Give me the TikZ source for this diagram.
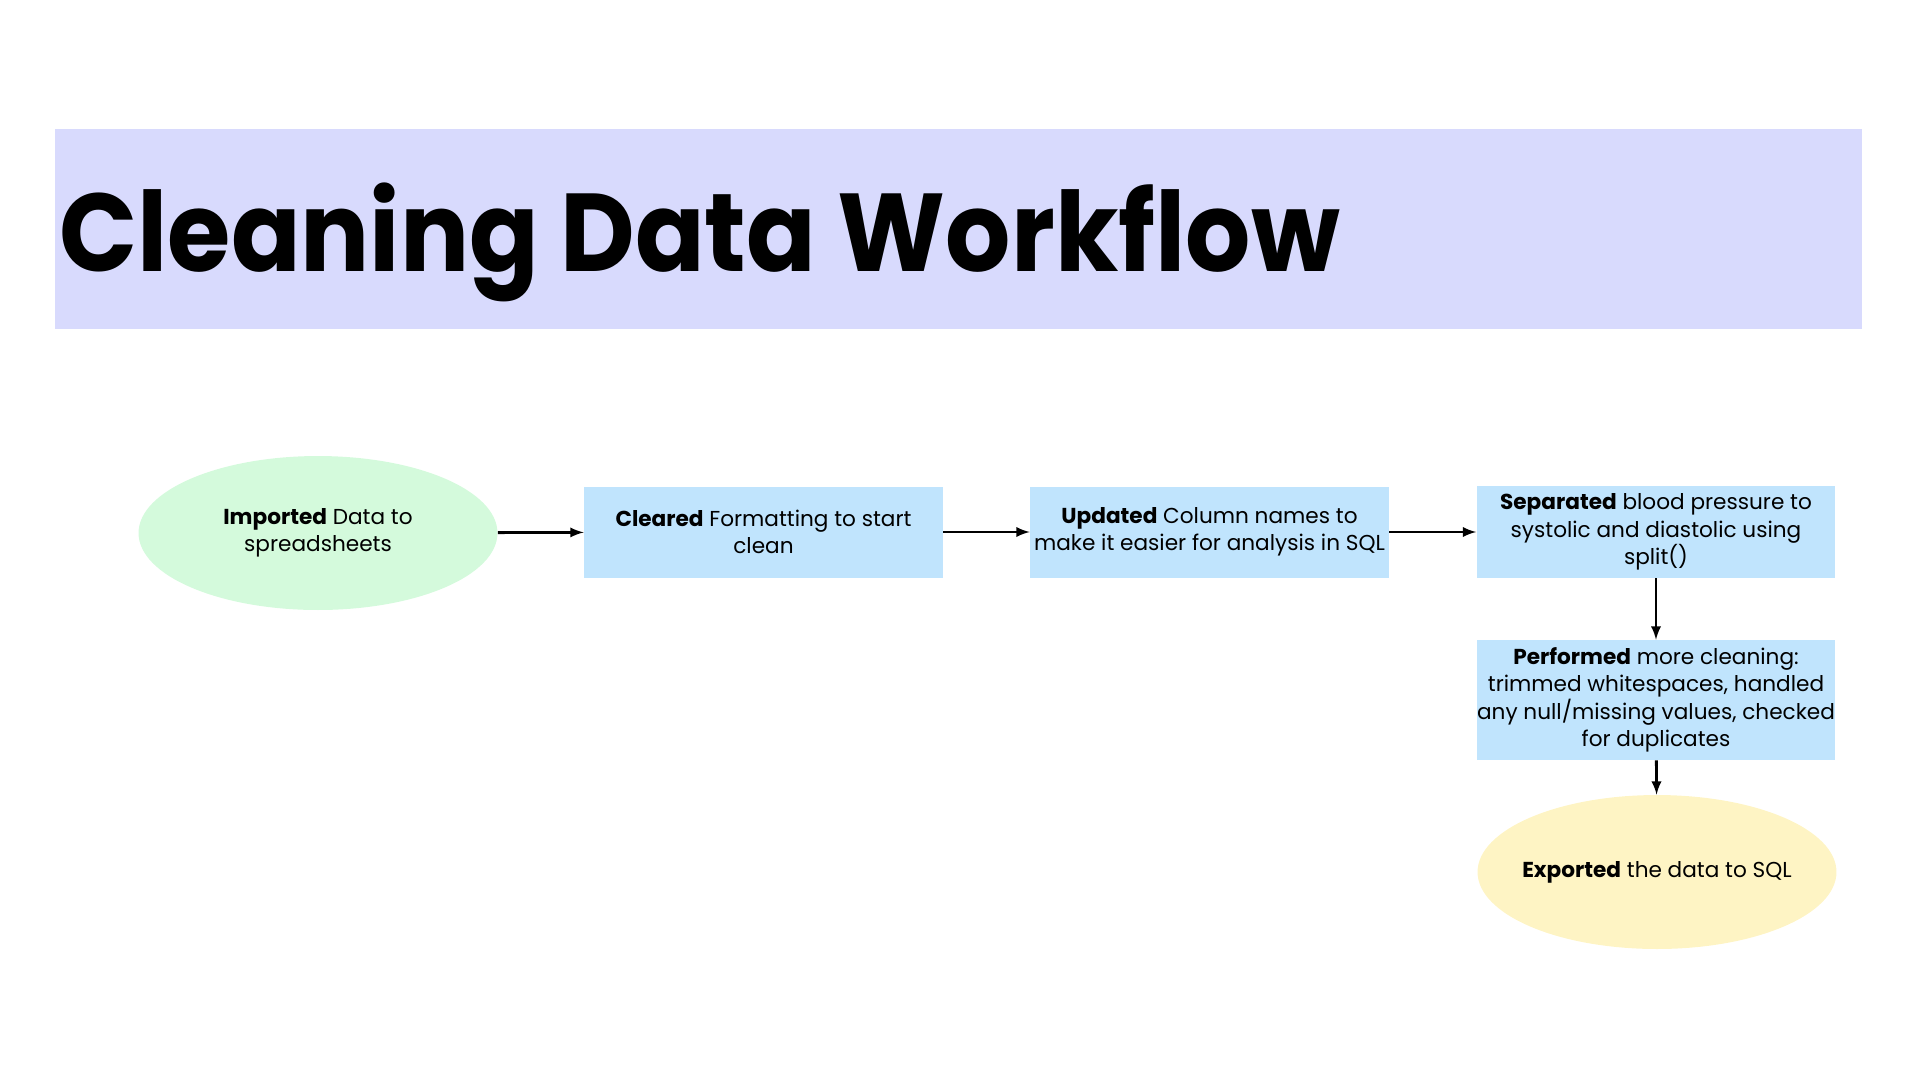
\documentclass[tikz,border=0pt]{standalone}
\usepackage{fontspec}
\setmainfont{Poppins}
\newfontfamily\titlefont[FakeStretch=0.927]{Poppins}
\usetikzlibrary{shapes.geometric}
\definecolor{bandcol}{RGB}{216,218,253}
\definecolor{greencol}{RGB}{212,250,220}
\definecolor{bluecol}{RGB}{192,228,253}
\definecolor{yellowcol}{RGB}{254,244,196}
\begin{document}
\begin{tikzpicture}[x=0.02cm,y=-0.02cm,
        stepbox/.style={rectangle,fill=bluecol,minimum width=7.18cm,inner sep=0pt,align=center,font=\fontsize{12.3}{15.6}\selectfont},
        endpoint/.style={ellipse,minimum width=7.18cm,minimum height=3.08cm,inner xsep=-1cm,inner ysep=0pt,align=center,font=\fontsize{12.3}{15.6}\selectfont},
        flow/.style={-latex,line width=1.6pt}]

        \useasboundingbox (0,0) rectangle (1920,1080);
        \fill[bandcol] (55,129) rectangle (1862,329);
        \node[anchor=base west,inner sep=0pt,font=\titlefont\fontsize{63}{63}\selectfont\bfseries] (title) at (59,271) {Cleaning Data Workflow};

        \node[endpoint,fill=greencol] (imp) at (318,533) {\textbf{Imported} Data to\\spreadsheets};
        \node[stepbox,minimum height=1.82cm] (clr) at (763.5,532) {\textbf{Cleared} Formatting to start\\clean};
        \node[stepbox,minimum height=1.82cm] (upd) at (1209.5,532) {\textbf{Updated} Column names to\\make it easier for analysis in SQL};
        \node[stepbox,minimum height=1.84cm] (sep) at (1656,532) {\textbf{Separated} blood pressure to\\systolic and diastolic using\\split()};
        \node[stepbox,minimum height=2.4cm] (perf) at (1656,700) {\textbf{Performed} more cleaning:\\trimmed whitespaces, handled\\any null/missing values, checked\\for duplicates};
        \node[endpoint,fill=yellowcol] (exp) at (1657,872) {\textbf{Exported} the data to SQL};

        % Fletxes entre els passos
        \foreach \a/\b in {imp/clr,clr/upd,upd/sep,sep/perf,perf/exp}
            \draw[flow] (\a) -- (\b);
    \end{tikzpicture}
\end{document}
